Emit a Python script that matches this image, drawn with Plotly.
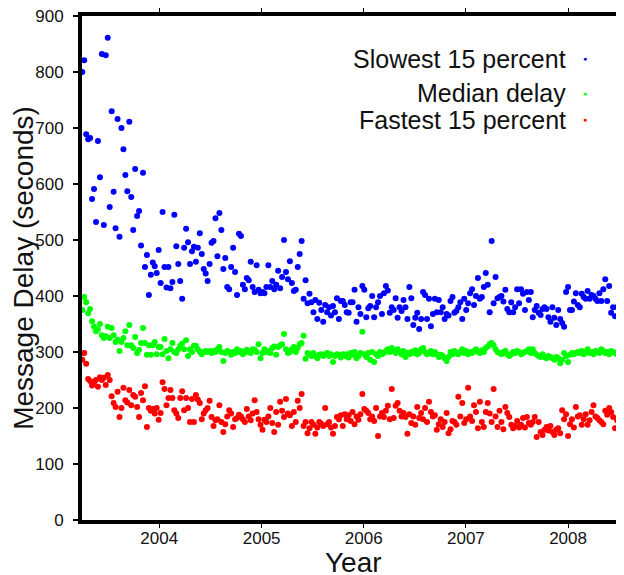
import pandas as pd
import plotly.graph_objects as go

# Weekly samples starting early April 2003
start_date = "2003-04-01"

slowest_15 = [
    800,821,689,680,682,573,591,532,677,612,832,527,830,861,559,730,586,521,716,506,700,662,616,
    587,711,577,518,627,543,552,490,620,452,473,402,438,460,453,441,482,423,550,452,415,452,414,
    425,545,489,457,427,395,486,520,496,457,480,488,461,486,512,475,448,440,427,457,495,498,539,
    471,548,518,448,468,416,412,452,486,443,402,511,507,420,412,432,428,461,416,407,455,411,405,
    407,405,416,455,416,427,412,420,445,414,434,500,443,430,462,423,409,411,452,475,498,395,428,
    387,404,389,371,393,359,388,375,354,384,371,380,365,382,371,396,359,391,391,384,371,370,389,
    389,411,354,380,368,418,411,362,378,382,400,362,380,389,400,368,405,418,410,370,380,375,396,
    361,380,373,393,380,359,416,396,348,361,370,341,359,407,402,359,395,346,368,395,371,393,371,
    380,359,368,365,391,398,370,373,380,389,359,395,375,387,405,412,384,400,432,395,398,416,441,
    420,371,498,387,434,396,398,400,390,411,377,371,389,371,380,412,387,412,404,375,407,393,407,
    362,375,382,370,366,377,380,377,362,354,380,361,348,375,359,352,345,407,416,375,375,390,405,
    384,380,404,398,395,409,395,402,400,395,391,405,391,412,430,391,418,370,380,364,380,398,375,
]

median_delay = [
    375,398,389,369,377,355,345,337,340,350,330,325,328,345,325,343,330,318,322,302,318,325,337,
    312,348,312,307,327,298,304,316,343,316,295,312,295,312,318,296,309,309,296,323,302,289,305,
    316,300,298,305,311,315,305,321,293,305,300,311,311,305,300,296,300,302,300,302,298,302,300,
    305,309,300,284,298,302,300,295,300,298,305,300,302,296,300,304,300,298,305,304,300,314,289,
    298,305,300,302,298,307,310,295,309,312,314,332,305,298,300,305,309,300,307,314,316,329,288,
    298,296,293,298,293,289,295,296,293,296,298,293,296,282,293,296,295,290,296,293,296,290,298,
    295,300,289,293,298,336,296,291,298,286,300,282,296,293,300,296,298,302,305,300,307,302,298,
    305,300,296,302,291,298,296,300,298,303,296,298,305,307,300,296,298,302,296,300,296,291,295,
    293,289,284,291,300,296,302,298,296,300,305,298,302,296,300,298,302,305,300,298,303,300,307,
    310,314,316,312,305,300,298,296,300,302,296,293,296,300,298,302,300,296,298,300,302,305,298,
    305,298,295,293,291,296,291,289,293,291,289,286,291,289,280,286,298,293,282,295,298,296,298,
    300,298,302,296,300,305,298,300,296,302,300,298,305,302,298,300,296,302,300,298,296,300,296,
]

fastest_15 = [
    286,298,279,252,248,240,245,250,238,255,250,254,241,259,250,221,209,202,229,184,200,236,214,
    210,232,205,223,220,202,184,227,214,239,166,200,195,198,190,200,179,191,246,234,205,218,232,
    218,196,190,182,218,230,196,218,200,175,216,175,223,215,209,180,190,196,200,213,184,168,178,
    180,205,175,157,171,185,196,190,166,180,182,188,185,180,175,198,185,178,190,214,193,180,170,
    161,179,175,185,200,173,157,193,170,211,195,184,216,190,187,168,193,175,213,200,225,168,175,
    155,164,175,170,154,165,175,172,168,200,171,175,165,154,168,184,180,187,168,189,180,187,177,
    193,171,185,179,189,225,198,195,191,180,185,177,200,150,185,191,184,195,204,180,234,182,204,
    209,195,185,191,184,154,189,173,185,170,202,182,191,180,200,175,211,193,185,187,161,171,180,
    166,175,191,155,162,177,175,170,220,185,209,173,180,236,185,177,205,193,164,211,175,166,193,
    209,190,175,234,185,166,195,175,162,202,191,184,170,164,168,177,165,170,182,165,184,173,170,
    175,184,148,175,157,152,161,166,160,168,157,152,161,164,155,196,180,189,150,171,180,165,202,
    185,187,170,180,189,170,178,193,205,185,182,178,175,171,195,188,200,193,184,164,178,182,209,
]

series_names = ["Slowest 15 percent", "Median delay", "Fastest 15 percent"]
series_colors = ["#0000FF", "#00FF00", "#FF0000"]
series_values = [slowest_15, median_delay, fastest_15]

n = max(len(v) for v in series_values)
dates = pd.date_range(start_date, periods=n, freq="7D")

fig = go.Figure()
for name, color, vals in zip(series_names, series_colors, series_values):
    fig.add_trace(go.Scatter(
        x=dates[:len(vals)], y=vals, mode="markers", name=name,
        marker=dict(color=color, size=6, line=dict(width=0)),
        showlegend=False,
    ))

FONT = "Liberation Sans, Arial, sans-serif"

# legend drawn as right-aligned labels with a dot to the right
legend_y = [0.9147, 0.8472, 0.7937]
for name, color, yy in zip(series_names, series_colors, legend_y):
    fig.add_annotation(xref="paper", yref="paper", x=0.8967, y=yy,
                       xanchor="right", yanchor="middle", showarrow=False,
                       text=name, font=dict(family=FONT, size=25, color="#111"))
    fig.add_annotation(xref="paper", yref="paper", x=0.928, y=yy,
                       xanchor="center", yanchor="middle", showarrow=False,
                       text="●", font=dict(family=FONT, size=7, color=color))

# x-axis title placed as in the reference
fig.add_annotation(xref="paper", yref="paper", x=0.5, y=-0.0853,
                   xanchor="center", yanchor="middle", showarrow=False,
                   text="Year", font=dict(family=FONT, size=28, color="#111"))

fig.update_layout(
    width=616, height=567,
    margin=dict(l=74, r=0, t=8, b=55),
    paper_bgcolor="white", plot_bgcolor="white",
    font=dict(family=FONT, color="#111"),
    xaxis=dict(
        type="date",
        range=["2003-03-31", "2008-07-19"],
        tick0="2004-01-01", dtick="M12", tickformat="%Y",
        showgrid=False, zeroline=False,
        showline=True, linecolor="black", linewidth=4, mirror="ticks",
        ticks="outside", ticklen=4, tickwidth=1, tickcolor="black",
        ticklabelstandoff=-4,
        tickfont=dict(family=FONT, size=17, color="#111"),
        automargin=False,
    ),
    yaxis=dict(
        range=[0, 900], dtick=100,
        showgrid=False, zeroline=False,
        showline=True, linecolor="black", linewidth=4,
        ticks="outside", ticklen=5, tickwidth=2, tickcolor="black",
        ticklabelstandoff=6, ticklabeloverflow="allow",
        tickfont=dict(family=FONT, size=17, color="#111"),
        title=dict(text="Message Delay (seconds)", font=dict(family=FONT, size=28, color="#111"), standoff=4),
        automargin=False,
    ),
)

fig.write_html("out.html")
